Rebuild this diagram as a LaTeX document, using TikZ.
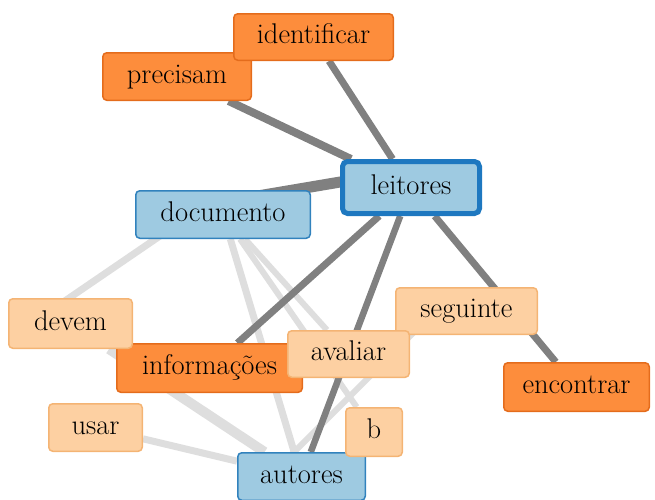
\documentclass[tikz,border=0pt]{standalone}
\usetikzlibrary{calc}
\definecolor{hotfill}{RGB}{253,141,60}
\definecolor{hotdraw}{RGB}{228,108,28}
\definecolor{warmfill}{RGB}{253,208,162}
\definecolor{warmdraw}{RGB}{244,180,116}
\definecolor{coolfill}{RGB}{158,202,225}
\definecolor{cooldraw}{RGB}{49,130,189}
\definecolor{hubdraw}{RGB}{30,120,192}
\definecolor{darkedge}{RGB}{128,128,128}
\definecolor{lightedge}{RGB}{222,222,222}
\pgfdeclarelayer{background}
\pgfsetlayers{background,main}
\tikzset{
  box/.style={rounded corners=4pt, line width=1.5pt, inner sep=0pt,
    font=\fontsize{28.5}{34}\selectfont, text height=19.5pt, text depth=6pt},
  hot/.style={box, fill=hotfill, draw=hotdraw},
  warm/.style={box, fill=warmfill, draw=warmdraw},
  cool/.style={box, fill=coolfill, draw=cooldraw},
  hub/.style={box, fill=coolfill, draw=hubdraw, line width=5pt, rounded corners=5pt},
  strong/.style={draw=darkedge, line width=#1},
  strong/.default=7pt,
  weak/.style={draw=lightedge, line width=#1},
  weak/.default=7pt
}
\begin{document}
\begin{tikzpicture}[x=1pt,y=-1pt]
\useasboundingbox (0,0) rectangle (655,499);
% nodes (drawing order = stacking order)
\node[hot, minimum width=148.5pt, minimum height=47.5pt] (precisam) at (177,76.5) {precisam};
\node[hot, minimum width=159.5pt, minimum height=46.5pt] (identificar) at (313.5,37) {identificar};
\node[hub, minimum width=137pt, minimum height=52pt] (leitores) at (411,187.5) {leitores};
\node[cool, minimum width=174.5pt, minimum height=47.5pt] (documento) at (223,214.5) {documento};
\node[warm, minimum width=141.5pt, minimum height=46.5pt] (seguinte) at (466.5,311) {seguinte};
\node[hot, minimum width=145.5pt, minimum height=48.5pt] (encontrar) at (576.5,387) {encontrar};
\node[hot, minimum width=185.5pt, minimum height=48.5pt] (informacoes) at (209.5,368) {informações};
\node[warm, minimum width=123.5pt, minimum height=49.5pt] (devem) at (70.5,323.5) {devem};
\node[warm, minimum width=121.5pt, minimum height=46.5pt] (avaliar) at (348.5,354) {avaliar};
\node[warm, minimum width=93.5pt, minimum height=47.5pt] (usar) at (95.5,427.5) {usar};
\node[cool, minimum width=127.5pt, minimum height=47.5pt] (autores) at (301.5,476.5) {autores};
\node[warm, minimum width=56.5pt, minimum height=48.5pt] (b) at (374,432) {b};
% connectors
\begin{pgfonlayer}{background}
  \draw[weak] ($(documento)+(-47,10.5)$) -- ($(devem)+(-33.5,-3.5)$);
  \draw[weak] (documento) -- (autores);
  \draw[weak=6pt] (documento) -- (b);
  \draw[weak=6pt] (documento) -- (avaliar);
  \draw[weak=10pt] (devem) -- (autores);
  \draw[weak] (usar) -- (autores);
  \draw[weak=6pt] ($(seguinte)+(-30.5,-1)$) -- ($(autores)+(-30.5,-1.5)$);
  \draw[strong] (leitores) -- (identificar);
  \draw[strong=8pt] (leitores) -- (precisam);
  \draw[strong=11pt] ($(leitores)+(0,-17.5)$) -- ($(documento)+(8,-14)$);
  \draw[strong] (leitores) -- (informacoes);
  \draw[strong=6.5pt] (leitores) -- (autores);
  \draw[strong] (leitores) -- (encontrar);
\end{pgfonlayer}
\end{tikzpicture}
\end{document}
